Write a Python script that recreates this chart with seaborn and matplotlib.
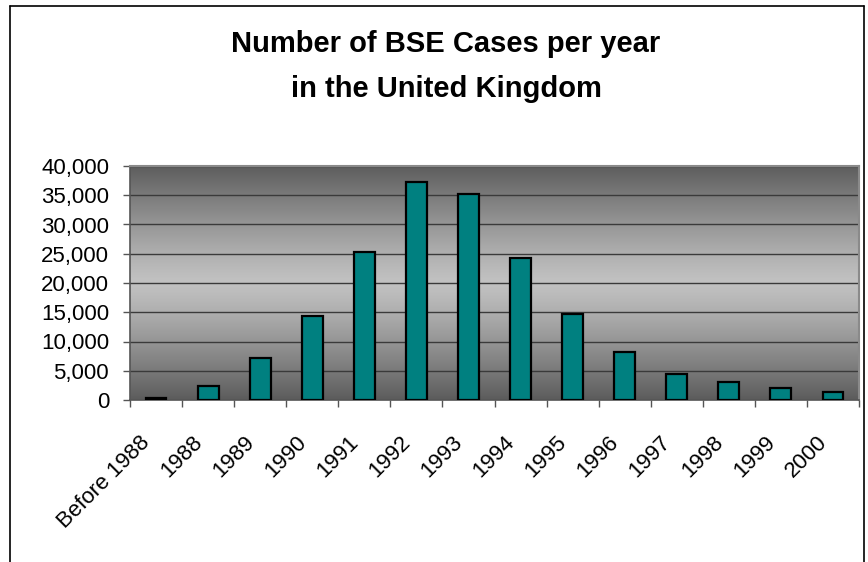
import numpy as np
import pandas as pd
import matplotlib
matplotlib.use("Agg")
import matplotlib.pyplot as plt
import matplotlib.transforms as mtransforms
import seaborn as sns
from matplotlib.lines import Line2D
from matplotlib.ticker import FuncFormatter

years = ["Before 1988", "1988", "1989", "1990", "1991", "1992", "1993",
         "1994", "1995", "1996", "1997", "1998", "1999", "2000"]
cases = [400, 2440, 7230, 14400, 25350, 37300, 35270,
         24330, 14750, 8260, 4500, 3130, 2100, 1420]
yticks = [0, 5000, 10000, 15000, 20000, 25000, 30000, 35000, 40000]
title_line1 = "Number of BSE Cases per year"
title_line2 = "in the United Kingdom"

df = pd.DataFrame({"year": years, "cases": cases})

sns.set_theme(style="white")
plt.rcParams["font.family"] = ["Liberation Sans", "DejaVu Sans"]
plt.rcParams["text.color"] = "black"
plt.rcParams["xtick.labelcolor"] = "black"
plt.rcParams["ytick.labelcolor"] = "black"

fig = plt.figure(figsize=(8.68, 5.62), dpi=100)
fig.patch.set_facecolor("white")
ax = fig.add_axes([130/868, 1 - 400/562, (859-130)/868, (400-166)/562])

# gradient background (dark - light - dark)
t = np.linspace(0, 1, 256)
dark, light = 0.36, 0.76
g = dark + (light - dark) * (1 - np.abs(2 * t - 1) ** 1.2)
grad = np.dstack([g, g, g]).reshape(256, 1, 3)
ax.imshow(grad, extent=[0, 1, 0, 1], transform=ax.transAxes, aspect="auto",
          zorder=0, interpolation="bicubic")

sns.barplot(data=df, x="year", y="cases", color="#008080", saturation=1,
            width=0.4, edgecolor="black", linewidth=1.6, ax=ax, zorder=3)

ax.set_xlim(-0.5, len(years) - 0.5)
ax.set_ylim(0, 40000)
ax.set_yticks(yticks)
ax.yaxis.set_major_formatter(FuncFormatter(lambda v, p: f"{int(v):,}"))
for y in yticks[1:]:
    ax.axhline(y, color="#3a3a3a", lw=1.0, zorder=1)

ax.set_xticks(range(len(years)))
ax.set_xticklabels(years, rotation=45, ha="right", va="center",
                   rotation_mode="anchor", fontsize=16, color="black")
ax.set_xticks(np.arange(-0.5, len(years)), minor=True)
ax.tick_params(axis="x", which="major", length=0, pad=28.5)
ax.tick_params(axis="x", which="minor", length=5, width=1, color="#555555",
               direction="out", bottom=True)
ax.tick_params(axis="y", length=5, width=1, color="#555555", direction="out",
               left=True, labelsize=16, pad=10, labelcolor="black")
shift = mtransforms.ScaledTranslation(-0.09, 0, fig.dpi_scale_trans)
for lab in ax.get_xticklabels():
    lab.set_transform(lab.get_transform() + shift)
ax.set_xlabel("")
ax.set_ylabel("")

for s in ["left", "bottom"]:
    ax.spines[s].set_color("#555555")
    ax.spines[s].set_linewidth(1.2)
for s in ["top", "right"]:
    ax.spines[s].set_color("#8a8a8a")
    ax.spines[s].set_linewidth(1.5)

fig.text(446/868, 1 - 52/562, title_line1, ha="center", va="baseline",
         fontsize=21, fontweight="bold", color="black")
fig.text(446/868, 1 - 97/562, title_line2, ha="center", va="baseline",
         fontsize=21, fontweight="bold", color="black")

# outer chart frame
fx0, fx1, fy0 = 10/868, 864/868, 1 - 6/562
fig.add_artist(Line2D([fx0, fx0], [0, fy0], color="black", lw=1.2, transform=fig.transFigure))
fig.add_artist(Line2D([fx0, fx1], [fy0, fy0], color="black", lw=1.2, transform=fig.transFigure))
fig.add_artist(Line2D([fx1, fx1], [0, fy0], color="black", lw=1.2, transform=fig.transFigure))

fig.savefig("out.png", dpi=100)
